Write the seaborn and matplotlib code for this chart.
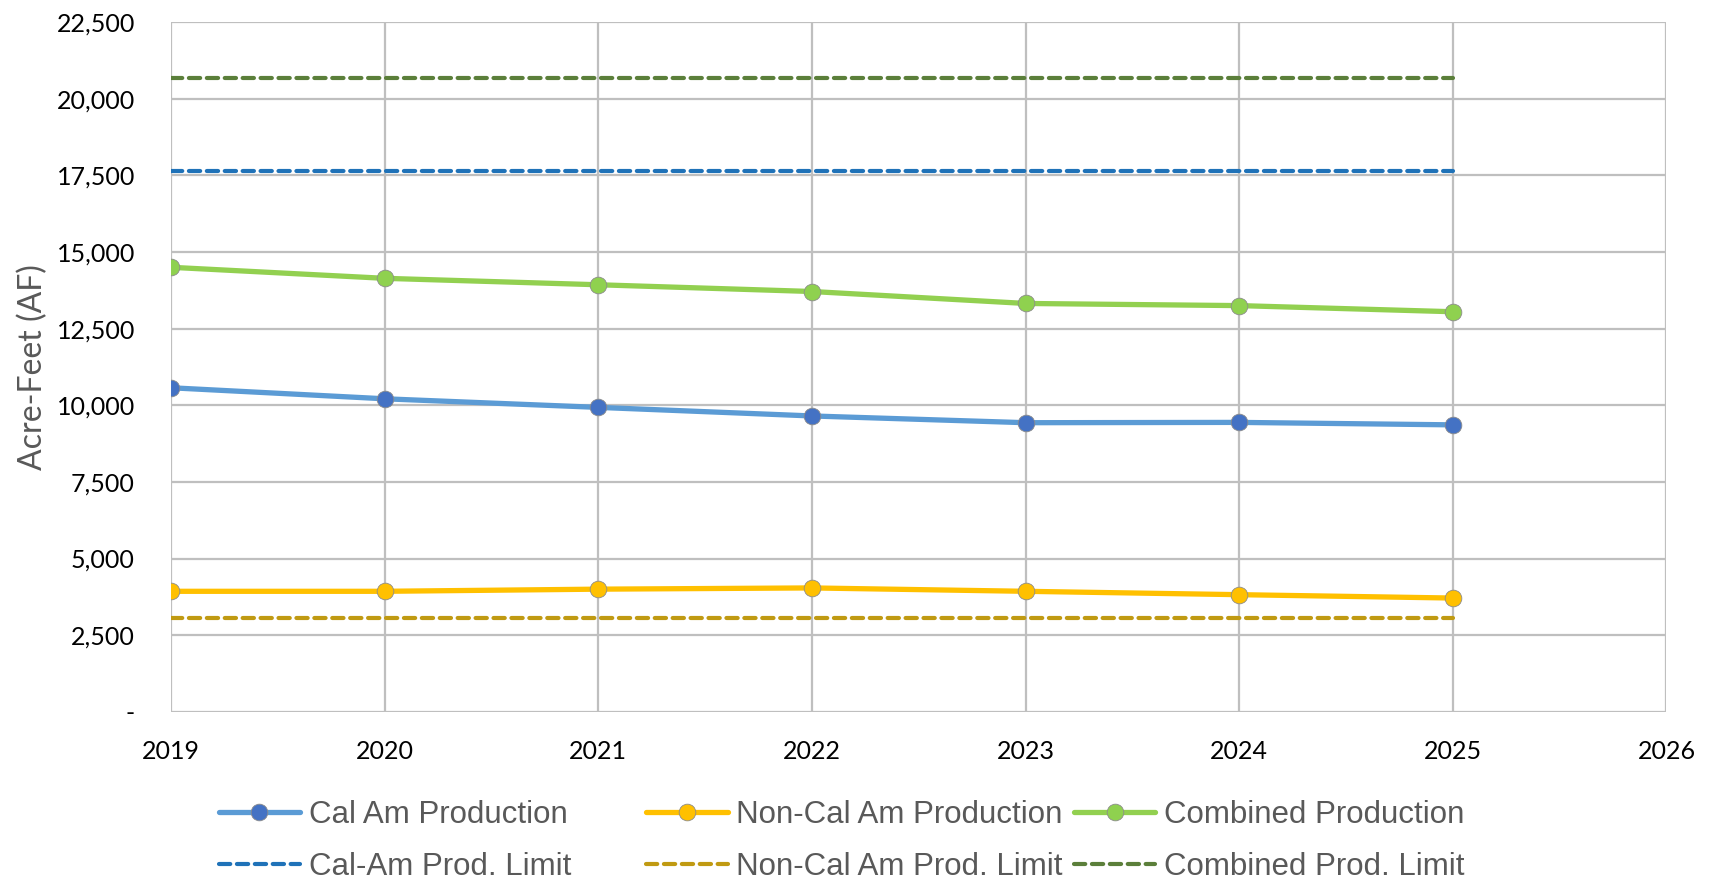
import pandas as pd
import seaborn as sns
import matplotlib.pyplot as plt
from matplotlib.ticker import FuncFormatter

sns.set_style('white')
plt.rcParams['font.family'] = ['Lato', 'DejaVu Sans']

# данные
years = [2019, 2020, 2021, 2022, 2023, 2024, 2025]
cal_am = [10570, 10210, 9930, 9650, 9430, 9440, 9360]
non_cal_am = [3930, 3930, 4000, 4040, 3930, 3820, 3710]
combined = [14500, 14140, 13930, 13710, 13320, 13250, 13050]
cal_am_limit = [17641] * 7
non_cal_am_limit = [3050] * 7
combined_limit = [20690] * 7

df = pd.DataFrame({'year': years, 'cal_am': cal_am, 'non_cal_am': non_cal_am,
                   'combined': combined, 'cal_am_limit': cal_am_limit,
                   'non_cal_am_limit': non_cal_am_limit, 'combined_limit': combined_limit})

fig = plt.figure(figsize=(17.18, 8.82), dpi=100)
ax = fig.add_axes([0.0995, 0.193, 0.8705, 0.782])

# линии производства
prod = [('cal_am', 'Cal Am Production', '#5B9BD5', '#4472C4'),
        ('non_cal_am', 'Non-Cal Am Production', '#FFC000', '#FFC000'),
        ('combined', 'Combined Production', '#92D050', '#8FD14F')]
lim = [('cal_am_limit', 'Cal-Am Prod. Limit', '#1F72B8'),
       ('non_cal_am_limit', 'Non-Cal Am Prod. Limit', '#C09A12'),
       ('combined_limit', 'Combined Prod. Limit', '#5B7F3A')]

for (c, lbl, col, mcol), (lc, llbl, lcol) in zip(prod, lim):
    sns.lineplot(data=df, x='year', y=lc, ax=ax, color=lcol, lw=3,
                 linestyle=(0, (2.7, 1.6)), dash_capstyle='round',
                 label=llbl, legend=False)
    sns.lineplot(data=df, x='year', y=c, ax=ax, color=col, lw=3.8,
                 marker='o', markersize=12, markerfacecolor=mcol,
                 markeredgecolor='#8C8C8C', markeredgewidth=0.6,
                 label=lbl, legend=False)

lines = ax.get_lines()
# три колонки легенды одинаковой ширины, как в Excel
for i in range(3):
    h = [lines[2 * i + 1], lines[2 * i]]
    x0 = [0.120, 0.369, 0.618][i]
    leg = fig.legend(handles=h, loc='upper left', bbox_to_anchor=(x0, 0.1075),
                     frameon=False, ncol=1, handlelength=2.6, handletextpad=0.28,
                     labelspacing=0.72, borderaxespad=0,
                     prop={'family': ['Liberation Sans Narrow', 'Liberation Sans'], 'size': 22.5})
    for t in leg.get_texts():
        t.set_color('#595959')

ax.set_xlim(2019, 2026)
ax.set_ylim(0, 22500)
ax.set_xticks(range(2019, 2027))
ax.set_yticks(range(0, 22501, 2500))
ax.yaxis.set_major_formatter(FuncFormatter(lambda v, p: '-' if v == 0 else f'{v:,.0f}'))
ax.tick_params(axis='both', labelsize=18, length=0, colors='black')
ax.tick_params(axis='x', pad=20)
ax.tick_params(axis='y', pad=26)
ax.grid(True, color='#BFBFBF', lw=1.6)
for s in ax.spines.values():
    s.set_visible(False)
ax.set_xlabel('')
ax.set_ylabel('Acre-Feet (AF)', fontsize=23, color='#595959', labelpad=6)

fig.savefig('out.png', dpi=100)
